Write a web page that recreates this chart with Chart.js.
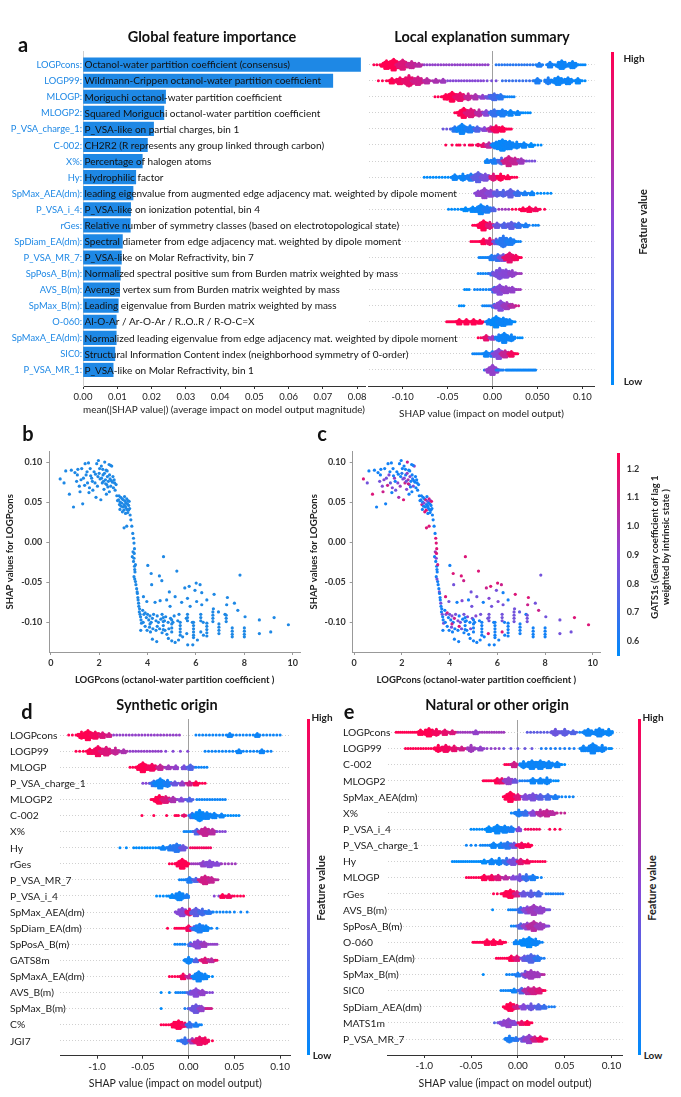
<!DOCTYPE html>
<html>
<head>
<meta charset="utf-8">
<script src="https://cdn.jsdelivr.net/npm/chart.js@4.4.1/dist/chart.umd.min.js"></script>
<style>
body{margin:0;background:#fff;}
#page{position:relative;width:681px;height:1097px;overflow:hidden;font-family:Lato,"Open Sans",sans-serif;color:#111;}
#page canvas{position:absolute;}
.t{position:absolute;white-space:nowrap;transform:translate(-50%,-50%);line-height:1;}
.cbar{position:absolute;width:3px;background:linear-gradient(#ff0052,#8a46d6,#008bfb);}
</style>
</head>
<body>
<div id="page">
<canvas id="globalBar" width="681" height="420" style="left:0;top:0"></canvas>
<canvas id="localSwarm" width="229" height="420" style="left:367px;top:0"></canvas>
<canvas id="depB" width="303" height="270" style="left:0;top:420px"></canvas>
<canvas id="depC" width="299" height="270" style="left:304px;top:420px"></canvas>
<canvas id="synth" width="282" height="400" style="left:10px;top:690px"></canvas>
<canvas id="natural" width="281" height="400" style="left:343px;top:690px"></canvas>
</div>
<script>
/* ---------- panel a : global importance ---------- */
const featA = ["LOGPcons","LOGP99","MLOGP","MLOGP2","P_VSA_charge_1","C-002","X%","Hy","SpMax_AEA(dm)","P_VSA_i_4",
  "rGes","SpDiam_EA(dm)","P_VSA_MR_7","SpPosA_B(m)","AVS_B(m)","SpMax_B(m)","O-060","SpMaxA_EA(dm)","SIC0","P_VSA_MR_1"];
const descA = [
  "Octanol-water partition coefficient (consensus)",
  "Wildmann-Crippen octanol-water partition coefficient",
  "Moriguchi octanol-water partition coefficient",
  "Squared Moriguchi octanol-water partition coefficient",
  "P_VSA-like on partial charges, bin 1",
  "CH2R2 (R represents any group linked through carbon)",
  "Percentage of halogen atoms",
  "Hydrophilic factor",
  "leading eigenvalue from augmented edge adjacency mat. weighted by dipole moment",
  "P_VSA-like on ionization potential, bin 4",
  "Relative number of symmetry classes (based on electrotopological state)",
  "Spectral diameter from edge adjacency mat. weighted by dipole moment",
  "P_VSA-like on Molar Refractivity, bin 7",
  "Normalized spectral positive sum from Burden matrix weighted by mass",
  "Average vertex sum from Burden matrix weighted by mass",
  "Leading eigenvalue from Burden matrix weighted by mass",
  "Al-O-Ar / Ar-O-Ar / R..O..R / R-O-C=X",
  "Normalized leading eigenvalue from edge adjacency mat. weighted by dipole moment",
  "Structural Information Content index (neighborhood symmetry of 0-order)",
  "P_VSA-like on Molar Refractivity, bin 1"];
const importanceA = [0.081,0.0729,0.0241,0.0236,0.0206,0.0188,0.0173,0.0154,0.0146,0.0139,
  0.0138,0.0115,0.0112,0.0109,0.0107,0.0103,0.0097,0.0097,0.0093,0.0088];
const importanceTicks = [0,0.01,0.02,0.03,0.04,0.05,0.06,0.07,0.08];

/* beeswarm rows: [shap, count, featureValue 0..1] = clump, [from, to, count, featureValue] = thin strip */
const swarmA = [
  [[-0.132,-0.122,4,1],[-0.118,22,1],[-0.11,45,1],[-0.1,30,0.85],[-0.09,16,0.75],[-0.082,8,0.7],[-0.076,-0.005,24,0.55],[0.004,0.045,14,0.15],[0.052,8,0.1],[0.064,12,0.08],[0.077,25,0.05],[0.089,20,0.05],[0.096,0.103,4,0.02]],
  [[-0.127,-0.118,3,1],[-0.112,10,1],[-0.103,20,0.95],[-0.093,40,0.9],[-0.083,25,0.8],[-0.073,12,0.7],[-0.063,8,0.65],[-0.055,6,0.6],[-0.05,-0.01,14,0.5],[-0.006,0.004,3,0.45],[0.011,0.045,10,0.2],[0.05,10,0.1],[0.062,15,0.1],[0.073,25,0.05],[0.084,20,0.05],[0.095,10,0.03],[0.1,0.103,2,0]],
  [[-0.064,-0.057,3,1],[-0.052,12,1],[-0.045,30,1],[-0.036,25,0.9],[-0.027,15,0.75],[-0.019,10,0.65],[-0.011,8,0.55],[-0.004,8,0.4],[0.002,20,0.25],[0.009,12,0.15],[0.014,0.024,5,0.05]],
  [[-0.042,-0.036,4,1],[-0.032,35,1],[-0.024,25,0.85],[-0.015,15,0.7],[-0.007,12,0.5],[0.002,18,0.2],[0.011,20,0.1],[0.02,12,0.05],[0.028,8,0.05],[0.034,0.042,4,0]],
  [[-0.055,-0.047,3,0.4],[-0.042,10,0.15],[-0.034,35,0.05],[-0.025,20,0.1],[-0.017,12,0.3],[-0.009,8,0.5],[-0.002,10,0.7],[0.004,20,0.95],[0.011,12,1],[0.016,0.021,4,1]],
  [[-0.052,1,1],[-0.045,1,1],[-0.038,2,1],[-0.031,1,0.95],[-0.024,2,1],[-0.016,3,0.95],[-0.01,5,0.9],[-0.004,10,0.7],[0.004,20,0.1],[0.011,50,0.03],[0.019,25,0.05],[0.027,15,0.05],[0.035,10,0.05],[0.043,6,0],[0.047,0.054,3,0]],
  [[-0.006,6,0.05],[0.002,14,0.1],[0.01,15,0.3],[0.018,30,0.8],[0.025,20,0.75],[0.032,10,0.6],[0.038,0.047,4,0.45]],
  [[-0.076,-0.046,10,0],[-0.042,10,0.05],[-0.033,15,0.05],[-0.024,20,0.1],[-0.016,30,0.35],[-0.008,20,0.45],[0.001,15,0.85],[0.009,15,1],[0.017,8,1],[0.022,0.027,3,1]],
  [[-0.016,10,0.5],[-0.009,30,0.55],[-0.002,18,0.5],[0.005,15,0.35],[0.012,15,0.3],[0.02,22,0.35],[0.028,12,0.2],[0.036,8,0.1],[0.044,6,0.05],[0.05,0.065,5,0]],
  [[-0.049,-0.035,5,0],[-0.03,8,0],[-0.022,12,0.02],[-0.013,35,0.05],[-0.006,20,0.1],[0.001,6,0.3],[0.007,0.018,4,0.6],[0.022,0.03,3,1],[0.034,8,1],[0.041,10,1],[0.048,8,0.95],[0.053,0.058,2,1]],
  [[-0.022,-0.015,4,1],[-0.01,35,1],[-0.003,15,0.85],[0.005,10,0.4],[0.013,12,0.3],[0.021,20,0.35],[0.029,10,0.2],[0.037,8,0.1],[0.045,0.051,3,0.05]],
  [[-0.024,-0.015,5,1],[-0.01,12,1],[-0.003,15,0.9],[0.004,12,0.4],[0.012,40,0.15],[0.02,20,0.1],[0.026,0.031,3,0.05]],
  [[-0.015,-0.006,6,0.05],[-0.001,12,0.1],[0.006,18,0.2],[0.012,20,0.45],[0.019,35,0.9],[0.026,10,0.95],[0.03,0.032,2,1]],
  [[-0.016,-0.005,5,0.05],[0,8,0.2],[0.008,40,0.45],[0.015,25,0.5],[0.022,15,0.55],[0.028,0.032,3,0.6]],
  [[-0.031,-0.026,3,0],[-0.02,-0.004,6,0.05],[0.002,10,0.2],[0.008,35,0.5],[0.015,20,0.55],[0.022,10,0.55],[0.027,0.031,3,0.6]],
  [[-0.037,-0.032,3,0],[-0.011,-0.004,4,0.05],[0.002,8,0.2],[0.009,35,0.5],[0.016,18,0.6],[0.022,8,0.7],[0.026,0.029,2,0.8]],
  [[-0.051,-0.04,8,1],[-0.037,10,1],[-0.029,12,1],[-0.021,12,1],[-0.014,8,1],[-0.004,10,0.1],[0.004,45,0.02],[0.012,25,0.05],[0.019,10,0.05],[0.022,0.025,2,0]],
  [[-0.016,-0.01,3,1],[-0.007,12,0.9],[0,8,0.6],[0.007,15,0.1],[0.013,35,0.05],[0.021,15,0.05],[0.028,0.033,3,0]],
  [[-0.022,-0.012,6,0.05],[-0.007,10,0.05],[0,10,0.1],[0.007,35,0.5],[0.014,18,0.75],[0.021,10,0.95],[0.025,0.028,3,1]],
  [[-0.009,-0.004,3,0.1],[0,35,0.55],[0.004,0.012,6,0.1],[0.015,0.048,25,0.05]]
];
const shapTicks = [-0.1,-0.05,0,0.05,0.1];
const shapTickLabelsA = ["-0.10","-0.05","0.00","0.050","0.10"];

/* ---------- panels b, c : dependence plot, [LOGPcons, SHAP, GATS1s] ---------- */
const depUpper = [[0.39,0.079,1.15],[0.55,0.074,0.85],[0.62,0.089,0.6],[0.77,0.06,1.15],[0.85,0.09,0.6],[0.94,0.044,0.6],[1.0,0.087,0.6],[1.07,0.076,0.85],[1.12,0.091,0.6],[1.18,0.07,0.9],
  [1.21,0.063,1.1],[1.28,0.092,0.6],[1.32,0.048,0.6],[1.35,0.08,0.85],[1.42,0.098,0.6],[1.46,0.084,0.9],[1.52,0.074,0.8],[1.56,0.099,0.6],[1.6,0.068,0.9],[1.63,0.092,0.6],
  [1.69,0.08,0.95],[1.74,0.065,0.85],[1.79,0.088,0.6],[1.83,0.074,0.9],[1.87,0.056,1.0],[1.9,0.098,0.6],[1.93,0.07,0.95],[1.97,0.102,0.6],[2.0,0.086,0.65],[2.04,0.079,0.85],
  [2.07,0.053,1.15],[2.09,0.095,0.6],[2.13,0.074,1.1],[2.16,0.084,0.6],[2.2,0.066,0.9],[2.23,0.1,1.1],[2.26,0.078,1.0],[2.29,0.09,0.6],[2.31,0.072,0.85],[2.34,0.082,0.9],
  [2.38,0.076,0.6],[2.41,0.097,0.6],[2.45,0.079,0.65],[2.48,0.07,0.85],[2.52,0.095,0.95],[2.55,0.075,0.6],[2.59,0.068,0.6],[2.62,0.078,0.6],[2.66,0.065,0.6],[2.7,0.072,0.6],
  [1.5,0.088,0.6],[1.65,0.083,0.6],[1.72,0.076,0.6],[1.85,0.085,0.6],[1.95,0.082,0.6],[2.02,0.092,0.6],[2.1,0.08,0.9],[2.15,0.091,0.6],[2.18,0.076,0.85],[2.22,0.086,0.95],
  [2.27,0.073,1.1],[2.33,0.089,0.6],[2.36,0.069,0.6],[2.43,0.084,0.6],[2.47,0.096,0.6],[2.5,0.077,0.6],[2.57,0.082,0.6],[2.64,0.074,0.6],[1.1,0.084,0.6],[1.25,0.078,0.9],
  [1.4,0.071,1.1],[1.58,0.062,0.6],[2.3,0.06,0.6],[2.42,0.063,0.6]];
const depCluster = [[2.73,0.058,0.6],[2.76,0.052,0.6],[2.8,0.053,0.6],[2.82,0.058,0.6],[2.84,0.047,1.1],[2.87,0.05,0.6],[2.89,0.056,0.6],[2.91,0.045,0.6],[2.93,0.049,0.9],[2.95,0.054,0.6],
  [2.98,0.044,0.6],[3.0,0.053,1.1],[3.02,0.04,1.15],[3.03,0.047,0.6],[3.05,0.057,0.6],[3.07,0.051,0.85],[3.08,0.045,0.6],[3.1,0.043,0.6],[3.12,0.049,0.6],[3.14,0.054,1.1],
  [3.15,0.041,0.6],[3.17,0.048,0.6],[3.19,0.052,0.95],[3.21,0.04,0.6],[3.22,0.046,0.6],[3.24,0.051,1.15],[3.26,0.042,0.6],[3.28,0.034,0.6],[3.31,0.028,0.6],[2.86,0.041,0.6],
  [2.96,0.038,1.15],[3.09,0.036,0.6],[3.18,0.037,0.6],[3.03,0.018,1.15],[3.14,0.02,1.15],[3.35,0.02,0.6]];
const depDrop = [[3.39,0.011,0.6],[3.42,0.005,1.15],[3.44,-0.001,1.15],[3.46,-0.008,1.15],[3.37,-0.018,0.6],[3.4,-0.012,1.0],[3.42,-0.024,0.6],[3.44,-0.02,0.9],[3.46,-0.03,0.6],[3.47,-0.034,0.6],
  [3.48,-0.037,0.6],[3.44,-0.043,0.6],[3.5,-0.049,0.6],[3.47,-0.046,0.85],[3.52,-0.053,0.6],[3.55,-0.058,0.6],[3.57,-0.062,0.85],[3.58,-0.064,0.6],[3.6,-0.069,0.6],[3.61,-0.072,0.6],
  [3.63,-0.076,0.85],[3.64,-0.08,0.6],[3.66,-0.087,0.6],[3.67,-0.083,0.6],[3.69,-0.09,0.85],[3.71,-0.093,0.6],[3.73,-0.097,0.6],[3.75,-0.101,0.85],[3.72,-0.11,0.6],[3.45,-0.014,1.15],[3.5,-0.028,1.1]];
const depScatter = [[4.66,-0.018,1.15],[4.01,-0.029,0.6],[5.21,-0.036,1.15],[7.82,-0.041,0.85],[4.15,-0.039,1.15],[4.49,-0.042,1.15],[4.17,-0.053,0.85],[4.59,-0.048,1.1],[4.9,-0.062,0.85],[5.72,-0.055,1.15],
  [5.54,-0.057,1.1],[6.01,-0.051,1.15],[6.17,-0.053,1.1],[5.96,-0.06,0.85],[6.24,-0.063,0.6],[6.75,-0.065,1.15],[7.3,-0.069,1.15],[7.59,-0.076,0.85],[7.27,-0.078,1.1],[7.73,-0.085,1.1],
  [3.83,-0.068,1.15],[3.97,-0.074,0.85],[4.31,-0.075,0.6],[4.52,-0.073,0.9],[4.79,-0.072,0.6],[4.93,-0.08,0.85],[5.14,-0.068,0.85],[5.41,-0.075,0.6],[5.65,-0.07,0.9],[5.76,-0.08,0.85],
  [6.03,-0.074,0.9],[6.24,-0.078,0.85],[6.45,-0.072,0.6],[6.72,-0.083,0.85],[6.93,-0.087,0.8],[7.2,-0.09,0.6],[8.03,-0.093,0.85],[8.62,-0.097,0.85],[9.23,-0.094,1.15],[9.82,-0.103,1.15],
  [9.09,-0.112,0.85],[8.62,-0.114,0.85]];
const depBand = [[3.8,-0.085,0.6],[3.85,-0.09,0.85],[3.9,-0.088,1.1],[3.95,-0.094,0.6],[4.0,-0.09,0.85],[4.05,-0.097,0.6],[4.1,-0.092,0.9],[4.15,-0.1,0.6],[4.2,-0.095,1.1],[4.25,-0.09,0.85],
  [4.35,-0.098,0.9],[4.4,-0.092,0.6],[4.45,-0.1,0.85],[4.55,-0.096,0.6],[4.6,-0.09,0.85],[4.7,-0.098,0.6],[4.75,-0.093,0.9],[4.85,-0.1,0.6],[4.95,-0.095,0.85],[3.82,-0.1,0.6],
  [3.9,-0.105,0.6],[3.98,-0.11,0.6],[4.08,-0.106,0.85],[4.12,-0.112,0.6],[4.22,-0.108,0.6],[4.35,-0.11,0.6],[4.5,-0.108,0.85],[4.6,-0.113,0.6],[4.72,-0.11,0.6],[4.8,-0.115,0.6],
  [4.88,-0.108,0.85],[5.05,-0.1,0.6],[5.1,-0.092,0.9],[5.25,-0.098,0.6],[5.3,-0.09,0.85],[5.6,-0.095,0.85],[5.85,-0.1,0.6],[6.3,-0.1,0.6],[4.2,-0.121,0.6],[4.38,-0.124,0.6],
  [4.86,-0.12,0.6],[5.0,-0.123,0.6],[5.14,-0.125,0.6],[5.28,-0.122,0.6],[5.45,-0.118,0.6],[5.66,-0.128,0.6],[5.87,-0.128,0.6],[5.62,-0.114,1.15],[6.06,-0.122,0.6],[6.31,-0.116,0.6],
  [6.2,-0.112,1.15],[4.4,-0.105,1.15],[4.1,-0.102,1.1]];
const depStripes = [[4.65,-0.094,0.6],[4.65,-0.099,0.6],[4.65,-0.104,0.6],[4.65,-0.109,0.6],
  [5.0,-0.097,0.6],[5.0,-0.102,0.6],[5.0,-0.107,0.6],[5.0,-0.112,0.6],
  [5.35,-0.1,0.6],[5.35,-0.104,0.6],[5.35,-0.108,0.6],[5.35,-0.112,0.6],[5.35,-0.116,0.6],
  [5.65,-0.09,0.85],[5.65,-0.094,0.85],[5.65,-0.098,0.85],
  [5.9,-0.1,0.6],[5.9,-0.104,0.6],[5.9,-0.108,0.6],[5.9,-0.112,0.6],[5.9,-0.116,0.6],[5.9,-0.119,0.6],
  [6.2,-0.09,0.85],[6.2,-0.094,0.85],[6.2,-0.098,0.85],
  [6.45,-0.101,0.6],[6.45,-0.105,0.6],[6.45,-0.109,0.6],[6.45,-0.113,0.6],[6.45,-0.117,0.6],
  [6.7,-0.087,0.85],[6.7,-0.091,0.85],[6.7,-0.095,0.85],[6.7,-0.099,0.85],
  [6.95,-0.102,0.6],[6.95,-0.106,0.6],[6.95,-0.11,0.6],[6.95,-0.114,0.6],
  [7.25,-0.091,0.85],[7.25,-0.095,0.85],[7.25,-0.099,0.85],
  [7.5,-0.107,0.6],[7.5,-0.111,0.6],[7.5,-0.115,0.6],[7.5,-0.118,0.6],
  [8.0,-0.107,0.6],[8.0,-0.111,0.6],[8.0,-0.115,0.6],[8.0,-0.118,0.6]];
const logpTicks = [0,2,4,6,8,10];
const depShapTicks = [-0.1,-0.05,0,0.05,0.1];
const gatsTicks = [1.2,1.1,1.0,0.9,0.8,0.7,0.6];

/* ---------- panels d, e ---------- */
const featD = ["LOGPcons","LOGP99","MLOGP","P_VSA_charge_1","MLOGP2","C-002","X%","Hy","rGes","P_VSA_MR_7",
  "P_VSA_i_4","SpMax_AEA(dm)","SpDiam_EA(dm)","SpPosA_B(m)","GATS8m","SpMaxA_EA(dm)","AVS_B(m)","SpMax_B(m)","C%","JGI7"];
const swarmD = [
  [[-0.131,-0.123,3,1],[-0.117,15,1],[-0.11,35,1],[-0.102,20,0.95],[-0.094,12,0.85],[-0.087,6,0.8],[-0.082,-0.01,22,0.55],[0.008,0.1,26,0.05],[0.045,5,0.05],[0.075,5,0.05]],
  [[-0.123,-0.115,3,1],[-0.108,12,1],[-0.099,30,0.95],[-0.09,25,0.85],[-0.08,15,0.75],[-0.071,8,0.65],[-0.064,-0.03,12,0.55],[-0.025,-0.001,4,0.5],[0.018,0.09,20,0.05],[0.055,5,0.05],[0.08,6,0.05]],
  [[-0.064,-0.055,4,1],[-0.05,30,1],[-0.04,18,0.95],[-0.031,12,0.75],[-0.022,8,0.6],[-0.014,6,0.55],[-0.005,5,0.45],[0.002,10,0.3],[0.008,0.02,5,0.05]],
  [[-0.05,-0.043,3,0.5],[-0.038,10,0.2],[-0.031,30,0.05],[-0.023,15,0.1],[-0.015,8,0.4],[-0.007,6,0.55],[0.001,8,0.8],[0.008,6,1],[0.012,0.018,3,1]],
  [[-0.041,-0.036,3,1],[-0.032,28,1],[-0.025,18,0.85],[-0.017,10,0.65],[-0.008,8,0.5],[0.001,8,0.3],[0.009,0.04,12,0.05]],
  [[-0.051,1,1],[-0.038,1,1],[-0.024,1,1],[-0.013,2,1],[-0.005,4,0.9],[0.004,10,0.2],[0.012,40,0.02],[0.02,18,0.05],[0.028,10,0.05],[0.036,6,0.05],[0.04,0.055,6,0]],
  [[-0.005,0.004,5,0.05],[0.009,10,0.3],[0.018,28,0.75],[0.026,12,0.7],[0.031,0.04,4,0.5]],
  [[-0.075,-0.068,2,0],[-0.06,-0.033,10,0],[-0.028,8,0.05],[-0.02,12,0.1],[-0.013,28,0.15],[-0.006,10,0.4],[0.002,0.024,10,0.95]],
  [[-0.021,-0.012,4,1],[-0.007,30,1],[0.003,0.012,5,0.6],[0.016,10,0.55],[0.023,18,0.5],[0.031,8,0.5],[0.036,0.051,5,0.6]],
  [[-0.01,-0.003,4,0.05],[0.001,12,0.1],[0.008,8,0.3],[0.018,25,0.8],[0.025,12,0.75],[0.03,0.032,2,0.7]],
  [[-0.035,-0.024,4,0],[-0.018,8,0],[-0.01,28,0.05],[-0.002,6,0.1],[0.028,0.033,2,0.5],[0.037,6,1],[0.044,8,0.95],[0.05,0.06,4,1]],
  [[-0.014,-0.01,2,0.5],[-0.007,25,0.5],[0.001,15,0.9],[0.008,22,0.35],[0.015,15,0.25],[0.022,8,0.15],[0.027,0.045,6,0.05],[0.05,0.064,3,0.05]],
  [[-0.023,1,1],[-0.015,-0.006,5,1],[0,10,0.95],[0.006,8,0.4],[0.012,25,0.1],[0.019,10,0.05],[0.025,0.031,2,0.05]],
  [[-0.015,-0.004,5,0.05],[0.002,6,0.2],[0.01,25,0.5],[0.017,12,0.6],[0.022,0.031,5,0.55]],
  [[-0.005,0.003,4,0.05],[0,15,0.05],[0.008,6,0.3],[0.018,14,0.85],[0.025,8,0.7],[0.029,0.031,2,0.9]],
  [[-0.021,-0.012,4,1],[-0.006,10,0.95],[0.001,8,0.7],[0.011,30,0.05],[0.018,10,0.05],[0.022,0.026,2,0]],
  [[-0.03,1,0],[-0.021,1,0],[-0.014,-0.004,5,0.05],[0.002,8,0.3],[0.008,22,0.5],[0.015,12,0.55],[0.02,0.026,3,0.5]],
  [[-0.03,1,0],[-0.004,0.003,3,0.1],[0.008,25,0.4],[0.014,10,0.55],[0.019,0.025,5,0.8]],
  [[-0.03,-0.022,4,1],[-0.016,12,1],[-0.011,25,1],[-0.004,8,0.9],[0.001,10,0.2],[0.008,6,0.1],[0.012,0.014,2,0.05]],
  [[-0.012,-0.006,4,0.05],[-0.004,15,0.2],[0.004,10,0.6],[0.012,25,0.9],[0.018,15,0.95],[0.026,1,1]]
];
const featE = ["LOGPcons","LOGP99","C-002","MLOGP2","SpMax_AEA(dm)","X%","P_VSA_i_4","P_VSA_charge_1","Hy","MLOGP",
  "rGes","AVS_B(m)","SpPosA_B(m)","O-060","SpDiam_EA(dm)","SpMax_B(m)","SIC0","SpDiam_AEA(dm)","MATS1m","P_VSA_MR_7"];
const swarmE = [
  [[-0.13,-0.11,10,1],[-0.104,12,1],[-0.095,25,1],[-0.087,15,0.95],[-0.078,10,0.9],[-0.07,8,0.85],[-0.064,-0.015,20,0.6],[-0.045,5,0.55],[0.01,0.035,8,0.35],[0.04,15,0.4],[0.05,15,0.35],[0.059,8,0.3],[0.066,0.1,12,0.05],[0.075,20,0.05],[0.087,25,0.05],[0.097,15,0.03]],
  [[-0.12,-0.09,12,1],[-0.085,15,1],[-0.077,20,0.95],[-0.068,12,0.9],[-0.06,8,0.8],[-0.05,15,0.6],[-0.04,8,0.55],[-0.033,-0.02,4,0.55],[-0.015,0.015,5,0.4],[0.025,0.06,8,0.1],[0.07,10,0.05],[0.08,30,0.05],[0.09,15,0.05],[0.097,0.1,3,0]],
  [[-0.014,-0.008,4,1],[-0.004,12,0.8],[0.006,15,0.05],[0.015,25,0.05],[0.024,25,0.05],[0.033,18,0.05],[0.042,10,0.05],[0.047,0.05,2,0]],
  [[-0.037,-0.028,6,1],[-0.022,10,1],[-0.017,12,0.9],[-0.01,18,0.55],[-0.003,6,0.4],[0.002,0.01,4,0.1],[0.016,10,0.05],[0.024,12,0.05],[0.031,15,0.05],[0.038,0.043,3,0]],
  [[-0.012,-0.008,3,1],[-0.008,30,1],[0,12,0.85],[0.008,12,0.5],[0.016,18,0.45],[0.024,12,0.35],[0.032,10,0.25],[0.04,8,0.1],[0.047,0.059,4,0.05]],
  [[-0.007,-0.002,3,0.05],[0.001,15,0.1],[0.008,10,0.2],[0.016,10,0.5],[0.024,15,0.7],[0.031,18,0.75],[0.037,8,0.7],[0.042,0.05,3,0.75]],
  [[-0.05,-0.035,6,0],[-0.031,10,0],[-0.022,22,0.03],[-0.014,18,0.05],[-0.007,10,0.1],[0.001,6,0.5],[0.008,0.023,6,0.95],[0.034,0.045,3,1]],
  [[-0.055,-0.045,3,0.05],[-0.04,-0.03,5,0.05],[-0.026,10,0.05],[-0.018,12,0.05],[-0.011,18,0.15],[-0.004,10,0.4],[0.004,14,0.95],[0.011,8,1],[0.014,1,1]],
  [[-0.07,-0.04,14,0],[-0.036,8,0],[-0.028,12,0.05],[-0.02,15,0.05],[-0.012,15,0.2],[-0.005,18,0.45],[0.003,10,0.85],[0.01,8,0.95],[0.016,0.029,6,1]],
  [[-0.055,-0.042,6,1],[-0.036,10,1],[-0.028,14,0.95],[-0.021,12,0.85],[-0.013,8,0.7],[-0.005,6,0.5],[0.002,15,0.45],[0.009,15,0.2],[0.016,10,0.1],[0.021,0.025,2,0.05]],
  [[-0.026,-0.018,3,1],[-0.013,12,1],[-0.008,25,1],[-0.001,10,0.8],[0.006,10,0.4],[0.014,15,0.35],[0.022,10,0.25],[0.03,0.048,8,0.1]],
  [[-0.027,1,0],[-0.01,-0.003,4,0.05],[0.003,10,0.2],[0.01,20,0.5],[0.017,30,0.6],[0.024,18,0.55],[0.031,0.034,3,0.4]],
  [[-0.007,-0.002,3,0.05],[0.003,10,0.3],[0.01,20,0.55],[0.017,30,0.7],[0.024,16,0.6],[0.03,0.033,3,0.5]],
  [[-0.048,-0.038,7,1],[-0.033,9,1],[-0.026,10,1],[-0.019,8,1],[-0.015,2,1],[-0.002,6,0.05],[0.006,20,0.02],[0.012,35,0.02],[0.019,15,0.05],[0.023,0.026,2,0.05]],
  [[-0.023,-0.012,6,1],[-0.007,10,1],[-0.001,10,0.85],[0.007,12,0.4],[0.014,25,0.3],[0.021,12,0.15],[0.025,0.028,2,0.1]],
  [[-0.037,1,0],[-0.012,-0.006,3,0.05],[0,8,0.1],[0.008,15,0.4],[0.014,25,0.6],[0.021,12,0.6],[0.026,0.028,2,0.7]],
  [[-0.018,-0.008,5,0.05],[-0.004,8,0.05],[0.004,10,0.3],[0.011,20,0.7],[0.017,20,0.8],[0.023,10,0.85],[0.027,0.029,2,1]],
  [[-0.008,25,1],[-0.001,8,0.8],[0.006,10,0.5],[0.014,15,0.4],[0.022,10,0.3],[0.028,6,0.2],[0.033,0.039,3,0.1]],
  [[-0.025,-0.018,3,0.3],[-0.015,14,0.5],[-0.01,22,0.55],[-0.004,8,0.5],[0.004,8,0.9],[0.01,5,1],[0.013,0.015,2,1]],
  [[-0.014,-0.007,5,0.05],[-0.009,15,0.1],[-0.002,6,0.15],[0.006,10,0.4],[0.012,22,0.55],[0.018,12,0.8],[0.024,10,0.95],[0.028,0.031,3,1]]
];
const shapTickLabelsDE = ["-1.0","-0.05","0.00","0.05","0.10"];

/* ---------- helpers ---------- */
const FONT = 'Lato, "Open Sans", sans-serif';
Chart.defaults.font.family = FONT;
Chart.defaults.color = '#222';

const BLUE = '#1e88e5';
function shapColor(t) {
  const stops = [[0,139,251],[134,72,214],[255,0,82]];
  t = Math.max(0, Math.min(1, t));
  const s = t < 0.5 ? 0 : 1, f = t < 0.5 ? t * 2 : (t - 0.5) * 2;
  const a = stops[s], b = stops[s + 1];
  return 'rgb(' + a.map((v, k) => Math.round(v + (b[k] - v) * f)).join(',') + ')';
}

// row names drawn straight on the canvas so long names can run into the plot, as in the original
const rowLabels = {
  id: 'rowLabels',
  afterDraw(chart, args, o) {
    if (!o.names) return;
    const {ctx, scales: {y}} = chart;
    ctx.save();
    ctx.font = o.font;
    ctx.fillStyle = o.color;
    ctx.textAlign = o.align;
    ctx.textBaseline = 'middle';
    o.names.forEach((n, i) => ctx.fillText(n + o.suffix, o.x, y.getPixelForValue(i) + 0.5));
    ctx.restore();
  }
};

// turn the per-row clumps into swarm dots
function swarm(rows) {
  const pts = [], colors = [];
  const DX = 0.0019, VY = 0.095;
  rows.forEach((clumps, row) => {
    clumps.forEach(cl => {
      if (cl.length === 4) {
        const [x0, x1, n, c] = cl;
        for (let k = 0; k < n; k++) {
          pts.push({x: n === 1 ? x0 : x0 + (x1 - x0) * k / (n - 1), y: row});
          colors.push(shapColor(c));
        }
        return;
      }
      const [x, n, c] = cl;
      const h = n <= 2 ? 1 : Math.min(9, Math.round(Math.sqrt(n) * 1.2));
      const w = Math.max(0, Math.ceil(n / h) - 1);
      for (let j = -w; j <= w; j++) {
        const hj = Math.max(1, Math.round(h * (1 - Math.abs(j) / (w + 1))));
        const shift = (Math.abs(j) % 2) * VY / 2;
        for (let k = 0; k < hj; k++) {
          pts.push({x: x + j * DX, y: row + (k - (hj - 1) / 2) * VY + (hj > 1 ? shift : 0)});
          colors.push(shapColor(c));
        }
      }
    });
  });
  return {pts, colors};
}

function beeswarmChart(id, names, rows, cfg) {
  const sw = swarm(rows);
  return new Chart(document.getElementById(id), {
    type: 'scatter',
    data: {datasets: [{data: sw.pts, pointBackgroundColor: sw.colors, pointBorderWidth: 0, pointRadius: 1.5, pointHoverRadius: 1.5}]},
    options: {
      responsive: false, animation: false, events: [],
      layout: {padding: {top: cfg.padTop, right: 0, bottom: 0, left: 0}},
      plugins: {
        legend: {display: false}, tooltip: {enabled: false},
        rowLabels: cfg.showLabels ? {names: names, suffix: '', x: 0, align: 'left', font: '10.3px ' + FONT, color: '#1a1a1a'} : {}
      },
      scales: {
        x: {
          type: 'linear', min: cfg.xmin, max: cfg.xmax,
          afterBuildTicks: s => { s.ticks = shapTicks.map(v => ({value: v})); },
          afterFit: s => { s.height = cfg.xH; s.paddingLeft = 0; s.paddingRight = 0; },
          ticks: {callback: (v, i) => cfg.tickLabels[i], font: {size: cfg.tickSize}, color: '#222', padding: 2, maxRotation: 0, autoSkip: false},
          grid: {color: c => (c.tick && c.tick.value === 0) ? '#a0a0a0' : 'rgba(0,0,0,0)', tickColor: '#333', tickLength: 3, lineWidth: 1},
          border: {color: '#333', width: 1},
          title: {display: true, text: 'SHAP value (impact on model output)', font: {size: cfg.titleSize}, color: '#222', padding: {top: 1, bottom: 0}}
        },
        y: {
          type: 'linear', reverse: true, min: cfg.ymin, max: cfg.ymax,
          afterBuildTicks: s => { s.ticks = names.map((_, i) => ({value: i})); },
          afterFit: s => { s.width = cfg.yW; s.paddingTop = 0; s.paddingBottom = 0; },
          ticks: {display: false},
          grid: {color: '#c4c4c4', lineWidth: 0.8, drawTicks: false},
          border: {display: false, dash: [1, 2]}
        }
      }
    },
    plugins: [rowLabels]
  });
}

function dependenceChart(id, colors, cfg) {
  const pts = [].concat(depUpper, depCluster, depDrop, depScatter, depBand, depStripes);
  return new Chart(document.getElementById(id), {
    type: 'scatter',
    data: {datasets: [{
      data: pts.map(p => ({x: p[0], y: p[1]})),
      pointBackgroundColor: colors ? pts.map(p => shapColor((p[2] - 0.55) / 0.7)) : BLUE,
      pointBorderWidth: 0, pointRadius: 1.6, pointHoverRadius: 1.6
    }]},
    options: {
      responsive: false, animation: false, events: [],
      layout: {padding: {top: cfg.padTop, right: 3, bottom: 0, left: 0}},
      plugins: {legend: {display: false}, tooltip: {enabled: false}},
      scales: {
        x: {
          type: 'linear', min: -0.06, max: 10.3,
          afterBuildTicks: s => { s.ticks = logpTicks.map(v => ({value: v})); },
          afterFit: s => { s.height = 38; s.paddingLeft = 0; s.paddingRight = 0; },
          ticks: {font: {size: 9, weight: 'bold'}, color: '#333', padding: 3, maxRotation: 0},
          grid: {drawOnChartArea: false, tickLength: 3, tickColor: '#999'},
          border: {color: '#999'},
          title: {display: true, text: 'LOGPcons (octanol-water partition coefficient )', font: {size: 9.5, weight: 'bold'}, color: '#222', padding: {top: 3}}
        },
        y: {
          type: 'linear', min: -0.137, max: 0.113,
          afterBuildTicks: s => { s.ticks = depShapTicks.map(v => ({value: v})); },
          afterFit: s => { s.width = cfg.yW; s.paddingTop = 0; s.paddingBottom = 0; },
          ticks: {callback: v => v.toFixed(2), font: {size: 9, weight: 'bold'}, color: '#333', padding: 4},
          grid: {drawOnChartArea: false, tickLength: 3, tickColor: '#999'},
          border: {color: '#999'},
          title: {display: true, text: 'SHAP values for LOGPcons', font: {size: 9.5, weight: 'bold'}, color: '#222', padding: {bottom: 3}}
        }
      }
    }
  });
}

/* ---------- panel a, left: bars ---------- */
const descPlugin = {
  id: 'desc',
  afterDatasetsDraw(chart) {
    const {ctx, scales: {x, y}} = chart;
    ctx.save();
    ctx.font = '10px ' + FONT;
    ctx.fillStyle = '#111';
    ctx.textBaseline = 'middle';
    descA.forEach((d, i) => ctx.fillText(d, x.getPixelForValue(0) + 1.5, y.getPixelForValue(i) + 0.5));
    ctx.restore();
  }
};
new Chart(document.getElementById('globalBar'), {
  type: 'bar',
  data: {datasets: [{data: importanceA.map((v, i) => ({x: v, y: i})), backgroundColor: BLUE, barThickness: 13.5, borderWidth: 0}]},
  options: {
    indexAxis: 'y', responsive: false, animation: false, events: [],
    layout: {padding: {top: 51, right: 316, bottom: 0, left: 0}},
    plugins: {
      legend: {display: false}, tooltip: {enabled: false},
      rowLabels: {names: featA, suffix: ':', x: 82, align: 'right', font: '9.4px ' + FONT, color: BLUE}
    },
    scales: {
      x: {
        type: 'linear', min: 0, max: 0.0823,
        afterBuildTicks: s => { s.ticks = importanceTicks.map(v => ({value: v})); },
        afterFit: s => { s.height = 34; s.paddingLeft = 0; s.paddingRight = 0; },
        ticks: {callback: v => v.toFixed(2), font: {size: 9.5}, color: '#222', padding: 2, maxRotation: 0, autoSkip: false},
        grid: {drawOnChartArea: false, tickLength: 3, tickColor: '#333'},
        border: {color: '#333'},
        title: {display: true, text: 'mean(|SHAP value|) (average impact on model output magnitude)', font: {size: 10}, color: '#222', padding: {top: 1}}
      },
      y: {
        type: 'linear', reverse: true, min: -0.85, max: 20, offset: false,
        afterBuildTicks: s => { s.ticks = featA.map((_, i) => ({value: i})); },
        afterFit: s => { s.width = 83; s.paddingTop = 0; s.paddingBottom = 0; },
        ticks: {display: false},
        grid: {display: false, offset: false},
        border: {color: '#d0d0d0'}
      }
    }
  },
  plugins: [descPlugin, rowLabels]
});

/* ---------- panel a, right / d / e: beeswarms ---------- */
beeswarmChart('localSwarm', featA, swarmA, {xmin: -0.138, xmax: 0.1135, ymin: -0.85, ymax: 20, padTop: 51, yW: 0, xH: 34,
  showLabels: false, tickLabels: shapTickLabelsA, tickSize: 9.5, titleSize: 10});
beeswarmChart('synth', featD, swarmD, {xmin: -0.1405, xmax: 0.1113, ymin: -1.0, ymax: 19.93, padTop: 29, yW: 50, xH: 34.3,
  showLabels: true, tickLabels: shapTickLabelsDE, tickSize: 10, titleSize: 10.5});
beeswarmChart('natural', featE, swarmE, {xmin: -0.139, xmax: 0.1117, ymin: -0.76, ymax: 19.99, padTop: 30, yW: 44.7, xH: 35,
  showLabels: true, tickLabels: shapTickLabelsDE, tickSize: 10, titleSize: 10.5});

/* ---------- panels b, c ---------- */
dependenceChart('depB', false, {padTop: 31.7, yW: 49.3});
dependenceChart('depC', true, {padTop: 31.7, yW: 48.7});

/* ---------- titles, letters, colour bars ---------- */
const page = document.getElementById('page');
function text(str, x, y, css, rot) {
  const d = document.createElement('div');
  d.className = 't';
  d.textContent = str;
  d.style.left = x + 'px';
  d.style.top = y + 'px';
  d.style.cssText += css;
  if (rot) d.style.transform = 'translate(-50%,-50%) rotate(-90deg)';
  page.appendChild(d);
}
function cbar(x, y, h) {
  const d = document.createElement('div');
  d.className = 'cbar';
  d.style.left = x + 'px'; d.style.top = y + 'px'; d.style.height = h + 'px';
  page.appendChild(d);
}
const letter = 'font-size:20px;font-weight:bold;';
const head = 'font-size:14.5px;font-weight:bold;';
const small = 'font-size:10px;font-weight:bold;color:#222;';
text('a', 23, 44, letter); text('b', 28, 433, letter); text('c', 322, 433, letter);
text('d', 27, 711, letter); text('e', 349, 711, letter);
text('Global feature importance', 212, 37, head);
text('Local explanation summary', 482, 37, head);
text('Synthetic origin', 167, 705, head);
text('Natural or other origin', 497, 705, head);

cbar(611, 52, 333);
text('High', 634, 58, small); text('Low', 633, 381, small);
text('Feature value', 642, 222, 'font-size:11px;font-weight:bold;color:#222;', true);

cbar(306.5, 719, 336);
text('High', 322, 717, small); text('Low', 322, 1055, small);
text('Feature value', 320, 888, 'font-size:11px;font-weight:bold;color:#222;', true);

cbar(638, 719, 336);
text('High', 653, 717, small); text('Low', 653, 1055, small);
text('Feature value', 651, 888, 'font-size:11px;font-weight:bold;color:#222;', true);

cbar(617, 453, 203);
gatsTicks.forEach(v => text(v.toFixed(1), 633, 467.7 + (1.2 - v) * 287, 'font-size:9px;font-weight:bold;color:#333;'));
text('GATS1s (Geary coefficient of  lag 1', 655, 547, 'font-size:9.5px;font-weight:bold;color:#222;', true);
text('weighted by intrinsic state )', 666, 547, 'font-size:9.5px;font-weight:bold;color:#222;', true);
</script>
</body>
</html>
